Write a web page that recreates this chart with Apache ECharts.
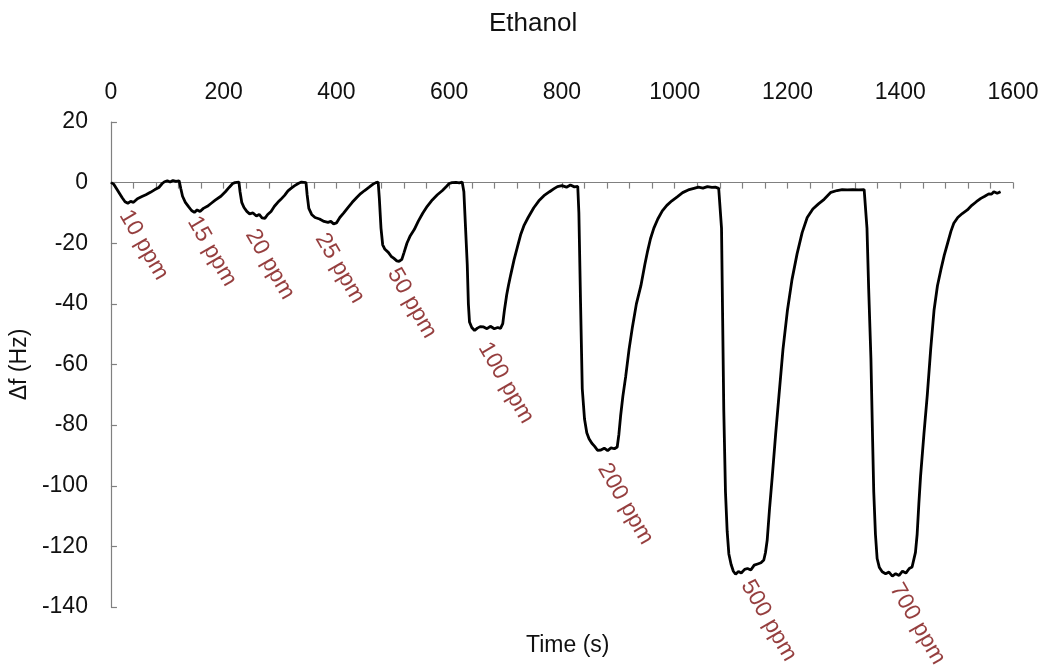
<!DOCTYPE html>
<html>
<head>
<meta charset="utf-8">
<script src="https://cdn.jsdelivr.net/npm/echarts@6/dist/echarts.min.js"></script>
<style>html,body{margin:0;padding:0;background:#fff}#c{width:1044px;height:668px}</style>
</head>
<body>
<div id="c"></div>
<script>
// Time (s)
var times = [
0,5,10,15,20,25,30,35,40,47,55,62,70,78,85,91,95,100,105,110,115,121,
124,127,132,138,143,148,153,158,164,171,178,185,195,203,210,216,220,227,
229,232,236,241,246,252,258,263,268,273,278,284,290,296,301,308,314,320,326,333,338,346,
348,351,356,362,370,378,385,390,395,400,406,413,420,428,436,443,450,458,465,470,474,
476,479,482,486,492,497,502,507,511,516,520,525,531,538,545,553,561,570,579,588,595,600,605,612,618,623,
626,629,632,634,636,640,645,650,655,661,667,673,680,686,691,695,698,702,705,709,715,721,727,733,740,750,759,768,778,786,792,800,808,815,822,828,
830,833,836,840,844,848,853,858,863,869,875,881,887,893,898,901,904,908,913,919,925,932,940,947,952,957,963,970,978,986,995,1005,1014,1024,1034,1042,1050,1058,1066,1072,1078,1081,
1083,1085,1087,1090,1093,1096,1100,1104,1108,1113,1118,1124,1129,1135,1141,1147,1153,1158,1161,1164,1168,1173,1179,1185,1192,1200,1208,1217,1226,1235,1245,1255,1265,1277,1288,1297,1306,1316,1326,1336,1339,
1341,1344,1348,1351,1353,1356,1359,1363,1368,1374,1380,1386,1392,1398,1404,1410,1416,1421,1424,1427,1430,1433,1436,1442,1448,1454,1460,1466,1472,1478,1484,1490,1495,1502,1510,1519,1527,1535,1543,1550,1557,1562,1566,1572,1578
];
// Δf (Hz)
var deltaF = [
0,-0.5,-2,-3.5,-5,-6.3,-6.8,-6.2,-6.5,-5.3,-4.6,-4,-3.2,-2.3,-1.6,-0.3,0.3,0.6,0.2,0.7,0.4,0.6,
-2,-4.5,-6.5,-8,-9.2,-9.8,-9,-9.5,-8.5,-7.8,-6.8,-5.8,-4.5,-3,-1.5,-0.3,0,0.2,
-3,-6.5,-8.2,-9.5,-10.3,-10,-11,-10.5,-11.6,-11.8,-10.5,-9.5,-7.8,-6.5,-5.6,-4.2,-2.7,-1.8,-1,-0.2,0.2,0,
-4,-8.5,-10.5,-11.5,-12,-12.8,-13.1,-12.8,-13.6,-13.3,-11.5,-10,-8.3,-6.5,-4.9,-3.6,-2.6,-1.5,-0.5,0,0.2,
-5,-15,-20.5,-22,-23,-24.3,-25,-25.8,-26,-25.3,-23,-20,-17.5,-15.5,-12.8,-10.1,-7.8,-5.7,-4,-2.6,-1.3,-0.3,0,0.1,-0.1,0.2,
-3,-15,-27,-40,-46,-47.8,-48.8,-48,-47.5,-47.6,-48.2,-47.4,-48.2,-47.8,-48.1,-46.5,-42,-37,-34,-30.5,-25.5,-21.2,-17,-14,-11.5,-8.3,-6,-4.3,-3,-2,-1.3,-1,-1.5,-0.8,-1.4,-1.2,
-10,-40,-68,-78,-82.5,-84.5,-86,-87,-88.3,-88.2,-87.6,-88.4,-87.5,-87.8,-87.2,-83,-77,-70.5,-64,-55,-47.6,-40,-34,-27,-22.5,-18.5,-15,-12,-9.3,-7.5,-6,-4.6,-3.3,-2.4,-1.9,-1.5,-1.8,-1.3,-1.6,-1.5,-1.9,-2.2,
-15,-45,-75,-102,-115,-122.5,-126,-128.2,-129.2,-128.3,-128.8,-127.6,-127.3,-127.8,-126.2,-125.8,-125.4,-124.5,-122,-118,-108,-97,-83,-70,-55,-42,-32,-23.5,-16.5,-11.5,-8.7,-7,-5.5,-3.2,-2.6,-2.3,-2.4,-2.3,-2.4,-2.3,-2.6,
-15,-35,-58,-85,-102,-116,-124,-127,-128.4,-129,-128.5,-129.8,-129,-129.6,-128.2,-128.8,-127.3,-126.8,-126.2,-122,-116,-106,-97,-83,-70,-55,-42,-34,-28.8,-24,-20,-16,-13.4,-11.5,-10.2,-9,-7.5,-6.3,-5.2,-4.5,-3.7,-3.8,-3,-3.5,-3
];
// concentration labels (anchor = start of text)
var labelTexts = ['10 ppm','15 ppm','20 ppm','25 ppm','50 ppm','100 ppm','200 ppm','500 ppm','700 ppm'];
var labelT = [23,144,247,371,499,660,872,1126,1390];
var labelV = [-9.6,-11.7,-16,-17.3,-28.8,-53.3,-93.2,-131.7,-132.8];
// tick labels
var xTicks = [0,200,400,600,800,1000,1200,1400,1600];
var yTicks = [20,0,-20,-40,-60,-80,-100,-120,-140];

var lineData = times.map(function(t,i){return [t, deltaF[i]];});
var labelData = labelT.map(function(t,i){return {name: labelTexts[i], value: [t, labelV[i]]};});

var FONT = 'Liberation Sans, Arial, sans-serif';
var chart = echarts.init(document.getElementById('c'), null, {renderer:'canvas'});
chart.setOption({
  animation: false,
  backgroundColor: '#fff',
  title: [
    {text: 'Ethanol', left: 484, top: 6, textStyle: {fontFamily: FONT, fontSize: 26, fontWeight: 'normal', color: '#111'}},
    {text: 'Time (s)', left: 521, top: 629, textStyle: {fontFamily: FONT, fontSize: 23, fontWeight: 'normal', color: '#111'}}
  ],
  grid: {left: 110, right: 31, top: 122, bottom: 61, containLabel: false},
  xAxis: [
    {
      type: 'value', min: 0, max: 1600, interval: 40, position: 'top',
      axisLine: {show: true, onZero: true, lineStyle: {color: '#808080', width: 1.2}},
      axisTick: {show: true, inside: true, length: 6, lineStyle: {color: '#808080', width: 1.2}},
      axisLabel: {show: false},
      splitLine: {show: false}
    },
    {
      type: 'value', min: 0, max: 1600, interval: 200, position: 'top',
      axisLine: {show: false, onZero: false},
      axisTick: {show: false},
      axisLabel: {show: true, margin: 18, fontFamily: FONT, fontSize: 23, color: '#111',
        customValues: xTicks, formatter: function(v){return String(v);}},
      splitLine: {show: false}
    }
  ],
  yAxis: {
    type: 'value', min: -140, max: 20, interval: 20,
    name: 'Δf (Hz)', nameLocation: 'middle', nameRotate: 90, nameGap: 71,
    nameTextStyle: {fontFamily: FONT, fontSize: 23, color: '#111'},
    axisLine: {show: true, lineStyle: {color: '#808080', width: 1.2}},
    axisTick: {show: true, inside: true, length: 6, lineStyle: {color: '#808080', width: 1.2}},
    axisLabel: {margin: 23, fontFamily: FONT, fontSize: 23, color: '#111', customValues: yTicks,
      formatter: function(v){return String(v);}},
    splitLine: {show: false}
  },
  series: [
    {
      type: 'line', xAxisIndex: 0, data: lineData, showSymbol: false, symbol: 'none',
      lineStyle: {color: '#000', width: 2.8}, z: 3
    },
    {
      type: 'scatter', xAxisIndex: 0, data: labelData, symbolSize: 1,
      itemStyle: {color: 'rgba(0,0,0,0)'},
      label: {show: true, formatter: '{b}', position: 'right', distance: 0, rotate: -60,
        align: 'left', verticalAlign: 'middle',
        fontFamily: FONT, fontSize: 23, color: '#7a0e0e'},
      z: 4
    }
  ]
});
</script>
</body>
</html>
